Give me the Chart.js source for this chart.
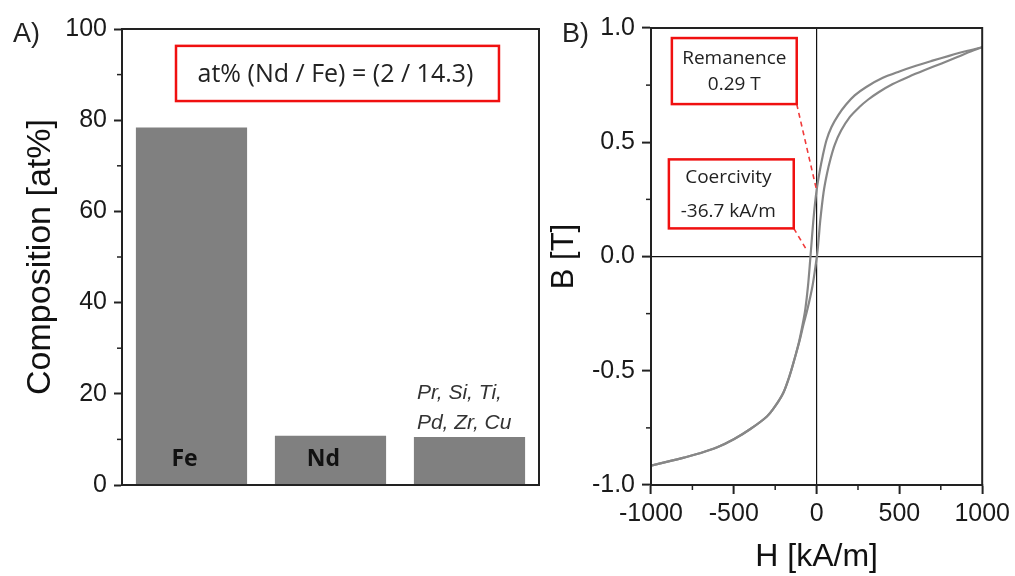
<!DOCTYPE html>
<html>
<head>
<meta charset="utf-8">
<script src="https://cdn.jsdelivr.net/npm/chart.js@4.4.1/dist/chart.umd.min.js"></script>
<style>
  html, body { margin: 0; padding: 0; background: #fff; }
  body { width: 1015px; height: 576px; position: relative; overflow: hidden; }
  canvas { position: absolute; top: 0; }
  #barChart { left: 0; }
  #loopChart { left: 545px; }
</style>
</head>
<body>
<canvas id="barChart" width="545" height="576"></canvas>
<canvas id="loopChart" width="470" height="576"></canvas>
<script>
// ---- A) composition ----
const elements = ["Fe", "Nd", ["Pr, Si, Ti,", "Pd, Zr, Cu"]];
const composition = [78.4, 10.8, 10.5];
const compTicks = [0, 20, 40, 60, 80, 100];
const ratioText = "at% (Nd / Fe) = (2 / 14.3)";

// ---- B) hysteresis loop (H in kA/m, B in T) ----
// descending branch, from +H to -H
const hDown = [1000, 900, 800, 700, 600, 500, 400, 300, 230, 178, 130, 90, 60, 37, 18, 0, -18, -37, -52, -68, -85, -105, -130, -160, -200, -250, -300, -400, -500, -600, -700, -800, -900, -1000];
const bDown = [0.916, 0.898, 0.878, 0.857, 0.835, 0.81, 0.782, 0.742, 0.705, 0.665, 0.618, 0.567, 0.51, 0.44, 0.37, 0.29, 0.17, 0.0, -0.13, -0.23, -0.30, -0.37, -0.44, -0.515, -0.595, -0.655, -0.70, -0.755, -0.80, -0.835, -0.86, -0.88, -0.898, -0.915];
// ascending branch, from -H to +H
const hUp = [-1000, -900, -800, -700, -600, -500, -400, -300, -250, -200, -160, -130, -103, -80, -55, -25, -8, 5, 14, 22, 42, 62, 85, 110, 148, 200, 257, 310, 377, 460, 557, 650, 755, 850, 930, 1000];
const bUp = [-0.915, -0.898, -0.88, -0.86, -0.835, -0.80, -0.755, -0.70, -0.655, -0.595, -0.515, -0.44, -0.37, -0.30, -0.23, -0.13, -0.05, 0.02, 0.09, 0.157, 0.28, 0.36, 0.43, 0.49, 0.551, 0.61, 0.653, 0.686, 0.72, 0.755, 0.787, 0.815, 0.845, 0.873, 0.897, 0.916];
const hTicks = [-1000, -500, 0, 500, 1000];
const bTicks = [-1.0, -0.5, 0.0, 0.5, 1.0];
const remanence = 0.29;    // T
const coercivity = -36.7;  // kA/m

const AXIS = "#222";
const RED = "#f01010";

// box round the plot + small ticks halfway between the big ones
function framePlugin(minor) {
  return {
    id: "frame",
    afterDraw(chart) {
      const { ctx, chartArea: a } = chart;
      ctx.save();
      ctx.strokeStyle = AXIS;
      ctx.lineWidth = 2;
      ctx.strokeRect(a.left, a.top, a.right - a.left, a.bottom - a.top);
      ctx.lineWidth = 1.5;
      minor.forEach(id => {
        const s = chart.scales[id];
        const vals = s.ticks.map(t => t.value);
        for (let i = 0; i < vals.length - 1; i++) {
          const p = s.getPixelForValue((vals[i] + vals[i + 1]) / 2);
          ctx.beginPath();
          if (s.isHorizontal()) {
            ctx.moveTo(p, a.bottom);
            ctx.lineTo(p, a.bottom + 5);
          } else {
            ctx.moveTo(a.left, p);
            ctx.lineTo(a.left - 5, p);
          }
          ctx.stroke();
        }
      });
      ctx.restore();
    }
  };
}

function panelLetter(text, x, y) {
  return {
    id: "letter",
    afterDraw(chart) {
      const ctx = chart.ctx;
      ctx.save();
      ctx.font = "27px 'Liberation Sans'";
      ctx.fillStyle = "#222";
      ctx.textAlign = "left";
      ctx.textBaseline = "middle";
      ctx.fillText(text, x, y);
      ctx.restore();
    }
  };
}

const barLabels = {
  id: "barLabels",
  afterDatasetsDraw(chart) {
    const ctx = chart.ctx;
    const base = chart.scales.y.getPixelForValue(0);
    ctx.save();
    ctx.textBaseline = "middle";
    chart.getDatasetMeta(0).data.forEach((bar, i) => {
      const name = elements[i];
      if (Array.isArray(name)) {
        ctx.font = "italic 21px 'Liberation Sans'";
        ctx.fillStyle = "#333";
        ctx.textAlign = "left";
        const x0 = bar.x - bar.width / 2 + 3;
        name.forEach((line, k) => {
          ctx.fillText(line, x0, bar.y - 14 - (name.length - 1 - k) * 30);
        });
      } else {
        ctx.font = "bold 23px 'Open Sans'";
        ctx.fillStyle = "#111";
        ctx.textAlign = "center";
        ctx.fillText(name, bar.x - 7, base - 26);
      }
    });
    ctx.restore();
  }
};

const ratioBox = {
  id: "ratioBox",
  afterDraw(chart) {
    const { ctx, chartArea: a } = chart;
    const w = a.right - a.left, h = a.bottom - a.top;
    const x1 = a.left + 0.1295 * w, x2 = a.left + 0.904 * w;
    const y1 = a.top + 0.037 * h, y2 = a.top + 0.158 * h;
    ctx.save();
    ctx.strokeStyle = RED;
    ctx.lineWidth = 2.5;
    ctx.strokeRect(x1, y1, x2 - x1, y2 - y1);
    ctx.font = "25px 'Open Sans'";
    ctx.fillStyle = "#222";
    ctx.textAlign = "center";
    ctx.textBaseline = "middle";
    ctx.fillText(ratioText, (x1 + x2) / 2 - 2, (y1 + y2) / 2 + 1);
    ctx.restore();
  }
};

// callout boxes on the loop, placed in data units
const callouts = [
  { lines: ["Remanence", remanence.toFixed(2) + " T"], box: [-874, 0.956, -120, 0.667],
    rows: [21, 47], dx: 0, to: [0, remanence], reach: 1 },
  { lines: ["Coercivity", coercivity + " kA/m"], box: [-892, 0.425, -138, 0.123],
    rows: [18, 52], dx: -3, to: [coercivity, 0], reach: 0.8 }
];

const loopNotes = {
  id: "loopNotes",
  afterDraw(chart) {
    const ctx = chart.ctx;
    const xs = chart.scales.x, ys = chart.scales.y;
    ctx.save();
    callouts.forEach(c => {
      const x1 = xs.getPixelForValue(c.box[0]), x2 = xs.getPixelForValue(c.box[2]);
      const y1 = ys.getPixelForValue(c.box[1]), y2 = ys.getPixelForValue(c.box[3]);
      const tx = xs.getPixelForValue(c.to[0]), ty = ys.getPixelForValue(c.to[1]);
      ctx.strokeStyle = "#f03a3a";
      ctx.lineWidth = 1.6;
      ctx.setLineDash([5, 4]);
      ctx.beginPath();
      ctx.moveTo(x2, y2);
      ctx.lineTo(x2 + (tx - x2) * c.reach, y2 + (ty - y2) * c.reach);
      ctx.stroke();
      ctx.setLineDash([]);
      ctx.strokeStyle = RED;
      ctx.lineWidth = 2.5;
      ctx.strokeRect(x1, y1, x2 - x1, y2 - y1);
      ctx.font = "19px 'Open Sans'";
      ctx.fillStyle = "#222";
      ctx.textAlign = "center";
      ctx.textBaseline = "middle";
      c.lines.forEach((t, k) => ctx.fillText(t, (x1 + x2) / 2 + c.dx, y1 + c.rows[k]));
    });
    ctx.restore();
  }
};

const tickFont = { family: "Liberation Sans", size: 25 };

new Chart(document.getElementById("barChart"), {
  type: "bar",
  data: {
    labels: elements,
    datasets: [{
      data: composition,
      backgroundColor: "#808080",
      barPercentage: 0.8,
      categoryPercentage: 1
    }]
  },
  options: {
    responsive: false,
    animation: false,
    devicePixelRatio: 1,
    layout: { padding: { left: 0, top: 29, right: 6, bottom: 0 } },
    plugins: { legend: { display: false }, tooltip: { enabled: false } },
    scales: {
      x: {
        grid: { display: false },
        ticks: { display: false },
        border: { color: AXIS, width: 2 },
        afterFit: s => { s.height = 91; }
      },
      y: {
        min: 0,
        max: 100,
        afterBuildTicks: s => { s.ticks = compTicks.map(v => ({ value: v })); },
        grid: { drawOnChartArea: false, tickLength: 8, tickColor: AXIS, tickWidth: 2 },
        border: { color: AXIS, width: 2 },
        ticks: { font: tickFont, color: "#1a1a1a", padding: 7 },
        title: {
          display: true,
          text: "Composition [at%]",
          font: { family: "Liberation Sans", size: 34 },
          color: "#111",
          padding: { top: 20, bottom: 0 }
        },
        afterFit: s => { s.width = 122; }
      }
    }
  },
  plugins: [barLabels, ratioBox, framePlugin(["y"]), panelLetter("A)", 13, 35)]
});

const zeroLine = c => (c.tick && c.tick.value === 0 ? "#111" : "rgba(0,0,0,0)");

new Chart(document.getElementById("loopChart"), {
  type: "scatter",
  data: {
    datasets: [
      {
        data: hDown.map((h, i) => ({ x: h, y: bDown[i] })),
        showLine: true, pointRadius: 0, borderColor: "#878787", borderWidth: 2.2, tension: 0.3
      },
      {
        data: hUp.map((h, i) => ({ x: h, y: bUp[i] })),
        showLine: true, pointRadius: 0, borderColor: "#878787", borderWidth: 2.2, tension: 0.3
      }
    ]
  },
  options: {
    responsive: false,
    animation: false,
    devicePixelRatio: 1,
    layout: { padding: { left: 0, top: 28, right: 31, bottom: 0 } },
    plugins: { legend: { display: false }, tooltip: { enabled: false } },
    scales: {
      x: {
        type: "linear",
        min: -1000,
        max: 1000,
        afterBuildTicks: s => { s.ticks = hTicks.map(v => ({ value: v })); },
        grid: { color: zeroLine, lineWidth: 1.2, tickLength: 9, tickColor: AXIS, tickWidth: 2 },
        border: { color: AXIS, width: 2 },
        ticks: { font: tickFont, color: "#1a1a1a", padding: 5, maxRotation: 0, callback: v => String(v) },
        title: {
          display: true,
          text: "H [kA/m]",
          font: { family: "Liberation Sans", size: 32 },
          color: "#111",
          padding: { top: 0, bottom: 0 }
        },
        afterFit: s => { s.height = 91; }
      },
      y: {
        min: -1,
        max: 1,
        afterBuildTicks: s => { s.ticks = bTicks.map(v => ({ value: v })); },
        grid: { color: zeroLine, lineWidth: 1.2, tickLength: 9, tickColor: AXIS, tickWidth: 2 },
        border: { color: AXIS, width: 2 },
        ticks: { font: tickFont, color: "#1a1a1a", padding: 7, callback: v => v.toFixed(1) },
        title: {
          display: true,
          text: "B [T]",
          font: { family: "Liberation Sans", size: 31 },
          color: "#111",
          padding: { top: 1, bottom: 0 }
        },
        afterFit: s => { s.width = 106; }
      }
    }
  },
  plugins: [loopNotes, framePlugin(["x", "y"]), panelLetter("B)", 17, 35)]
});
</script>
</body>
</html>
